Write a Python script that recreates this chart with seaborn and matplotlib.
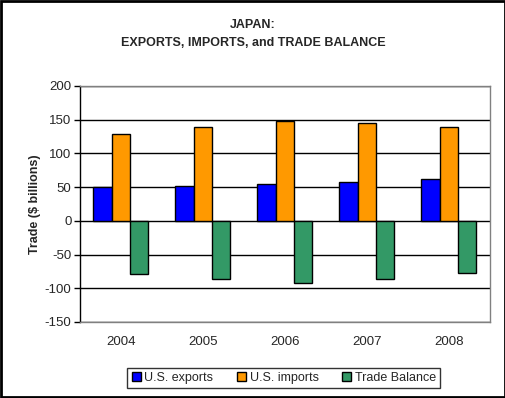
import numpy as np
import pandas as pd
import seaborn as sns
import matplotlib.pyplot as plt
from matplotlib.patches import Rectangle


# ─── DATA ──────────────────────────────────────
years   = ["2004", "2005", "2006", "2007", "2008"]
exports = [50.3, 52.3, 55.3, 58.2, 62.2]
imports = [128.8, 139.2, 148.1, 145.1, 139.2]
balance = [-78.5, -86.9, -92.8, -86.9, -77.0]
series  = ["U.S. exports", "U.S. imports", "Trade Balance"]
colors  = ["#0000FF", "#FF9900", "#339966"]

df = pd.DataFrame({
    "year":   years * 3,
    "series": [s for s in series for _ in years],
    "value":  exports + imports + balance,
})


def main():
    sns.set_style("white")
    plt.rcParams["font.family"] = ["Liberation Sans", "DejaVu Sans"]
    plt.rcParams["axes.unicode_minus"] = False

    fig = plt.figure(figsize=(5.06, 3.98), dpi=100)
    ax = fig.add_axes([0.158, 0.191, 0.81, 0.593])

    sns.barplot(data=df, x="year", y="value", hue="series",
                palette=colors, width=0.67, edgecolor="black",
                linewidth=1, saturation=1, ax=ax, legend=True)

    # axes / grid
    ax.set_ylim(-150, 200)
    ax.set_yticks(np.arange(-150, 201, 50))
    ax.set_xlim(-0.5, 4.5)
    ax.yaxis.grid(True, color="black", linewidth=1)
    ax.set_axisbelow(True)
    for side in ["top", "right", "bottom"]:
        ax.spines[side].set_color("#808080")
        ax.spines[side].set_linewidth(1)
    ax.spines["left"].set_color("black")
    ax.spines["left"].set_linewidth(1)
    ax.tick_params(axis="y", direction="out", length=4, width=1,
                   color="black", labelsize=9.5, left=True, pad=2)
    ax.tick_params(axis="x", length=0, labelsize=9.5, pad=10)

    ax.set_xlabel("")
    ax.set_ylabel("Trade ($ billions)", fontsize=9, fontweight="bold",
                  labelpad=3)

    fig.suptitle("JAPAN:\nEXPORTS, IMPORTS, and TRADE BALANCE",
                 y=0.952, fontsize=9, fontweight="bold", linespacing=1.7)

    # legend
    ax.legend_.remove()
    handles, labels = ax.get_legend_handles_labels()
    leg = fig.legend(handles, labels, loc="center", ncol=3,
                     bbox_to_anchor=(0.561, 0.05), frameon=True,
                     fancybox=False, edgecolor="black", fontsize=9,
                     handlelength=0.7, handleheight=0.7, handletextpad=0.3,
                     columnspacing=1.9, borderpad=0.35, borderaxespad=0)
    leg.get_frame().set_linewidth(1)

    # figure border
    fig.patches.append(Rectangle((0.002, 0.002), 0.996, 0.996,
                                 transform=fig.transFigure, fill=False,
                                 edgecolor="black", linewidth=2))

    fig.savefig("out.png", dpi=100)


if __name__ == "__main__":
    main()
